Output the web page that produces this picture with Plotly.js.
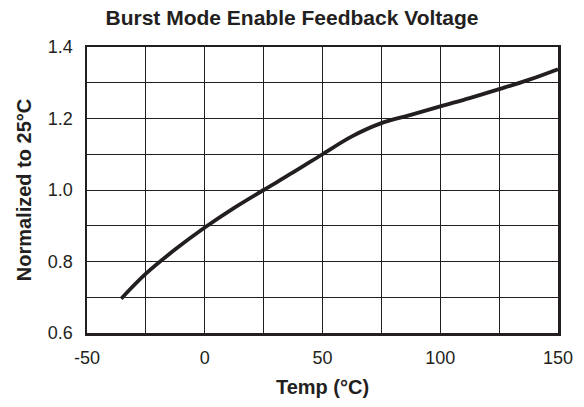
<!DOCTYPE html>
<html>
<head>
<meta charset="utf-8">
<script src="https://cdn.plot.ly/plotly-3.0.1.min.js"></script>
<style>html,body{margin:0;padding:0;background:#fff;}#chart{width:584px;height:407px;}</style>
</head>
<body>
<div id="chart"></div>
<script>
const temps = [-35.5, -25, -12.5, 0, 12.5, 25, 37.5, 50, 62.5, 75, 87.5, 100, 112.5, 125, 137.5, 150];
const values = [0.696, 0.766, 0.834, 0.895, 0.95, 1.0, 1.049, 1.1, 1.15, 1.187, 1.21, 1.234, 1.257, 1.282, 1.308, 1.338];
const xTicks = [-50, 0, 50, 100, 150];
const yTicks = [0.6, 0.8, 1.0, 1.2, 1.4];
const yTickText = ["0.6", "0.8", "1.0", "1.2", "1.4"];

const font = "Liberation Sans, Arial, sans-serif";
Plotly.newPlot('chart', [{
  x: temps, y: values, type: 'scatter', mode: 'lines',
  line: {color: '#231f20', width: 3.8, shape: 'spline', smoothing: 1},
  hoverinfo: 'skip'
}], {
  width: 584, height: 407,
  margin: {l: 87, r: 26, t: 47, b: 74},
  paper_bgcolor: '#fff', plot_bgcolor: '#fff',
  showlegend: false,
  title: {text: '<b>Burst Mode Enable Feedback Voltage</b>', x: 0.5, xref: 'container', xanchor: 'center',
    y: 0.957, yref: 'container', yanchor: 'middle', font: {family: font, size: 21, color: '#231f20'}},
  xaxis: {
    range: [-50, 150], tickvals: xTicks, ticktext: xTicks.map(String),
    showgrid: true, gridcolor: '#231f20', gridwidth: 1,
    minor: {dtick: 25, tick0: -50, showgrid: true, gridcolor: '#231f20', gridwidth: 1},
    zeroline: false, showline: true, mirror: true, linecolor: '#231f20', linewidth: 2.5,
    ticks: '', ticklen: 0, ticklabelstandoff: 7, tickfont: {family: font, size: 18, color: '#231f20'},
    title: {text: '<b>Temp (°C)</b>', font: {family: font, size: 20, color: '#231f20'}, standoff: 13},
    fixedrange: true
  },
  yaxis: {
    range: [0.6, 1.4], tickvals: yTicks, ticktext: yTickText,
    showgrid: true, gridcolor: '#231f20', gridwidth: 1,
    minor: {dtick: 0.1, tick0: 0.6, showgrid: true, gridcolor: '#231f20', gridwidth: 1},
    zeroline: false, showline: true, mirror: true, linecolor: '#231f20', linewidth: 2.5,
    ticks: '', ticklen: 0, ticklabelstandoff: 8, tickfont: {family: font, size: 18, color: '#231f20'},
    title: {text: '<b>Normalized to 25°C</b>', font: {family: font, size: 20, color: '#231f20'}, standoff: 11},
    fixedrange: true
  }
}, {staticPlot: true});
</script>
</body>
</html>
